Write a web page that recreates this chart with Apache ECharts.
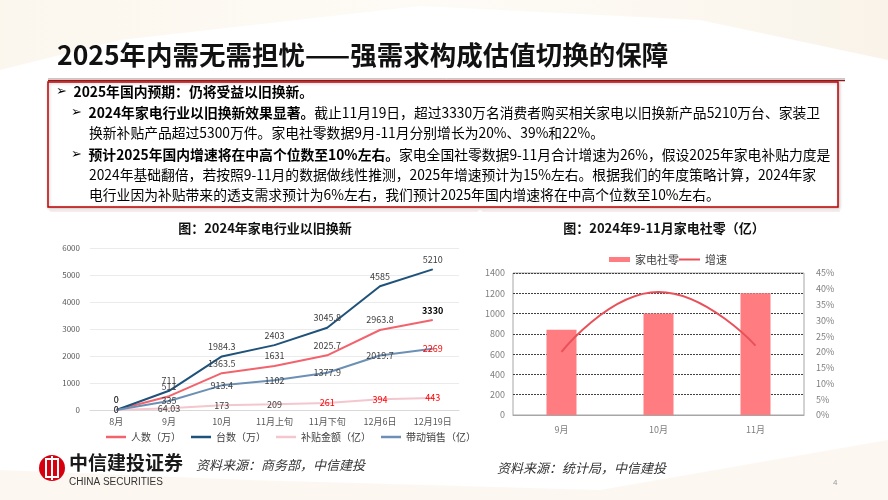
<!DOCTYPE html>
<html>
<head>
<meta charset="utf-8">
<script src="https://cdn.jsdelivr.net/npm/echarts@6/dist/echarts.min.js"></script>
<style>
html,body{margin:0;padding:0;background:#fff;}
#main{width:888px;height:500px;}
</style>
</head>
<body>
<div id="main"></div>
<script>
// ---- data ----
const leftCats = ['8月', '9月', '10月', '11月上旬', '11月下旬', '12月6日', '12月19日'];
const people = [0, 511, 1363.5, 1631, 2025.7, 2963.8, 3330];
const units = [0, 711, 1984.3, 2403, 3045.8, 4585, 5210];
const subsidy = [0, 64.03, 173, 209, 261, 394, 443];
const sales = [0, 335, 913.4, 1102, 1377.9, 2019.7, 2269];
const leftNames = ['人数（万）', '台数（万）', '补贴金额（亿）', '带动销售（亿）'];
const leftTicks = [0, 1000, 2000, 3000, 4000, 5000, 6000];

const rightCats = ['9月', '10月', '11月'];
const retail = [840, 1000, 1200];
const growth = [20, 39, 22];
const rightNames = ['家电社零', '增速'];

// ---- styles ----
const redIdxSubsidy = [4, 5, 6];
const redIdxSales = [6];
const boldIdxPeople = [6];
const FONT = '"Noto Sans CJK SC", "Noto Sans", sans-serif';

function withLabelStyle(vals, redIdx, boldIdx) {
  return vals.map((v, i) => {
    const o = { value: v };
    if (redIdx && redIdx.indexOf(i) >= 0) o.label = { color: '#FF0000' };
    if (boldIdx && boldIdx.indexOf(i) >= 0) o.label = { color: '#000', fontWeight: 'bold' };
    return o;
  });
}

const chart = echarts.init(document.getElementById('main'), null, { renderer: 'canvas' });

const rich = {
  a: { fontFamily: 'DejaVu Sans', fontSize: 13, color: '#E0492A' },
  b: { fontFamily: FONT, fontSize: 13.8, fontWeight: 'bold', color: '#111' },
  n: { fontFamily: FONT, fontSize: 13.8, color: '#262626' }
};
function tline(x, y, text) {
  return { type: 'text', x: x, y: y, z: 10,
    style: { text: text, rich: rich, verticalAlign: 'middle', align: 'left' } };
}

const graphics = [
  // background swooshes
  { type: 'polygon', z: -10, silent: true,
    shape: { points: [[0,0],[888,0],[888,60],[700,20],[420,6],[120,40],[0,70]] },
    style: { fill: new echarts.graphic.LinearGradient(0,0,1,0,[{offset:0,color:'rgba(245,232,205,0.35)'},{offset:0.5,color:'rgba(250,240,220,0.25)'},{offset:1,color:'rgba(240,225,200,0.4)'}]) } },
  { type: 'polygon', z: -10, silent: true,
    shape: { points: [[0,500],[0,470],[250,480],[600,490],[888,440],[888,500]] },
    style: { fill: 'rgba(246,236,215,0.35)' } },
  // title
  { type: 'text', x: 57, y: 55, z: 10,
    style: { text: '2025年内需无需担忧——强需求构成估值切换的保障', fontFamily: FONT, fontSize: 26.5, fontWeight: 'bold', fill: '#111', verticalAlign: 'middle' } },
  { type: 'line', shape: { x1: 48, y1: 78.5, x2: 845, y2: 78.5 }, style: { stroke: '#C8C8C8', lineWidth: 1 } },
  { type: 'line', shape: { x1: 48, y1: 80.5, x2: 845, y2: 80.5 }, style: { stroke: '#8E1B1B', lineWidth: 1.5 } },
  // text box
  { type: 'rect', shape: { x: 48, y: 82, width: 790, height: 125 },
    style: { fill: '#fff', stroke: '#C00000', lineWidth: 1.5, shadowBlur: 3, shadowColor: 'rgba(0,0,0,0.2)', shadowOffsetX: 1, shadowOffsetY: 1 } },
  tline(56, 92, '{a|➢}  {b|2025年国内预期：仍将受益以旧换新。}'),
  tline(71, 113, '{a|➢}  {b|2024年家电行业以旧换新效果显著。}{n|截止11月19日，超过3330万名消费者购买相关家电以旧换新产品5210万台、家装卫}'),
  tline(89, 133, '{n|换新补贴产品超过5300万件。家电社零数据9月-11月分别增长为20%、39%和22%。}'),
  tline(71, 155, '{a|➢}  {b|预计2025年国内增速将在中高个位数至10%左右。}{n|家电全国社零数据9-11月合计增速为26%，假设2025年家电补贴力度是}'),
  tline(89, 175, '{n|2024年基础翻倍，若按照9-11月的数据做线性推测，2025年增速预计为15%左右。根据我们的年度策略计算，2024年家}'),
  tline(89, 195, '{n|电行业因为补贴带来的透支需求预计为6%左右，我们预计2025年国内增速将在中高个位数至10%左右。}'),
  // chart title bands
  { type: 'line', shape: { x1: 50, y1: 211, x2: 478, y2: 211 }, style: { stroke: 'rgba(240,190,190,0.5)', lineWidth: 1 } },
  { type: 'line', shape: { x1: 482, y1: 211, x2: 840, y2: 211 }, style: { stroke: 'rgba(240,190,190,0.5)', lineWidth: 1 } },
  { type: 'text', x: 265, y: 228, style: { text: '图：2024年家电行业以旧换新', fontFamily: FONT, fontSize: 13, fontWeight: 'bold', fill: '#111', align: 'center', verticalAlign: 'middle' } },
  { type: 'text', x: 664, y: 228, style: { text: '图：2024年9-11月家电社零（亿）', fontFamily: FONT, fontSize: 13, fontWeight: 'bold', fill: '#111', align: 'center', verticalAlign: 'middle' } },
  // footer logo
  { type: 'circle', shape: { cx: 52, cy: 468, r: 13 }, style: { fill: '#D7000F' } },
  { type: 'rect', shape: { x: 46, y: 459, width: 12, height: 18 }, style: { fill: 'none', stroke: '#fff', lineWidth: 2 } },
  { type: 'line', shape: { x1: 52, y1: 456, x2: 52, y2: 480 }, style: { stroke: '#fff', lineWidth: 2 } },
  { type: 'text', x: 69, y: 463, style: { text: '中信建投证券', fontFamily: FONT, fontSize: 19, fontWeight: 'bold', fill: '#1A1A1A', verticalAlign: 'middle' } },
  { type: 'text', x: 69, y: 482, style: { text: 'CHINA SECURITIES', fontFamily: 'Liberation Sans', fontSize: 10, fill: '#333', verticalAlign: 'middle' } },
  { type: 'text', x: 196, y: 465, style: { text: '资料来源：商务部，中信建投', fontFamily: FONT, fontSize: 13, fontStyle: 'italic', fill: '#333', verticalAlign: 'middle' } },
  { type: 'text', x: 497, y: 468, style: { text: '资料来源：统计局，中信建投', fontFamily: FONT, fontSize: 13, fontStyle: 'italic', fill: '#333', verticalAlign: 'middle' } },
  { type: 'text', x: 833, y: 483, style: { text: '4', fontFamily: 'Liberation Sans', fontSize: 8, fill: '#999', verticalAlign: 'middle' } }
];

const leftColors = ['#F2636C', '#1F527A', '#F4C6CE', '#6C90B5'];
const leftLabelPos = ['top', 'top', 'inside', 'inside'];
const leftData = [
  withLabelStyle(people, null, boldIdxPeople),
  withLabelStyle(units),
  withLabelStyle(subsidy, redIdxSubsidy),
  withLabelStyle(sales, redIdxSales)
];

const series = leftNames.map((n, k) => ({
  name: n, type: 'line', xAxisIndex: 0, yAxisIndex: 0,
  symbol: 'circle', symbolSize: 1, showSymbol: true, data: leftData[k],
  lineStyle: { color: leftColors[k], width: 2 },
  itemStyle: { color: leftColors[k] },
  label: { show: true, position: leftLabelPos[k], fontSize: 9, color: '#404040', fontFamily: FONT, distance: 5,
    formatter: p => String(p.value) },
  z: 3
}));
series.push({
  name: rightNames[0], type: 'bar', xAxisIndex: 1, yAxisIndex: 1,
  data: retail, barWidth: 30, itemStyle: { color: '#FF7C80' }
});
series.push({
  name: rightNames[1], type: 'line', xAxisIndex: 1, yAxisIndex: 2,
  data: growth, smooth: true, symbol: 'none',
  lineStyle: { color: '#E8515A', width: 2 }, itemStyle: { color: '#E8515A' }
});

const plain = v => String(v);

const option = {
  animation: false,
  backgroundColor: '#fff',
  textStyle: { fontFamily: FONT },
  graphic: graphics,
  legend: [
    { data: leftNames, left: 101, top: 427, icon: 'rect', itemWidth: 20, itemHeight: 2.5, itemGap: 10,
      textStyle: { fontSize: 10, color: '#404040' } },
    { data: [rightNames[0]], left: 604, top: 249, icon: 'rect',
      itemWidth: 21, itemHeight: 5, textStyle: { fontSize: 11, color: '#404040' } },
    { data: [rightNames[1]], left: 674, top: 249, icon: 'rect',
      itemWidth: 21, itemHeight: 2, textStyle: { fontSize: 11, color: '#404040' } }
  ],
  grid: [
    { left: 90, right: 429, top: 248, bottom: 90 },
    { left: 513, right: 84, top: 273, bottom: 85, show: true, borderColor: '#A6A6A6', borderWidth: 1 }
  ],
  xAxis: [
    { type: 'category', gridIndex: 0, data: leftCats, axisTick: { show: false },
      axisLine: { lineStyle: { color: '#D9D9D9' } },
      axisLabel: { fontSize: 9, color: '#595959', margin: 7 } },
    { type: 'category', gridIndex: 1, data: rightCats, axisTick: { show: false },
      axisLine: { lineStyle: { color: '#A6A6A6' } },
      axisLabel: { fontSize: 9, color: '#7F7F7F', margin: 10 } }
  ],
  yAxis: [
    { type: 'value', gridIndex: 0, min: leftTicks[0], max: leftTicks[leftTicks.length - 1], interval: 1000,
      axisLine: { show: false }, axisTick: { show: false },
      axisLabel: { fontSize: 8, color: '#595959', margin: 10, formatter: plain },
      splitLine: { lineStyle: { color: '#EBEBEB' } } },
    { type: 'value', gridIndex: 1, min: 0, max: 1400, interval: 200,
      axisLine: { show: false }, axisTick: { show: false },
      axisLabel: { fontSize: 9, color: '#7F7F7F', margin: 8, formatter: plain },
      splitLine: { lineStyle: { color: '#404040', type: [2, 1], width: 1 } } },
    { type: 'value', gridIndex: 1, position: 'right', min: 0, max: 45, interval: 5,
      axisLine: { show: false }, axisTick: { show: false },
      axisLabel: { fontSize: 9, color: '#7F7F7F', margin: 12, formatter: v => v + '%' },
      splitLine: { show: false } }
  ],
  series: series
};
chart.setOption(option);
</script>
</body>
</html>
